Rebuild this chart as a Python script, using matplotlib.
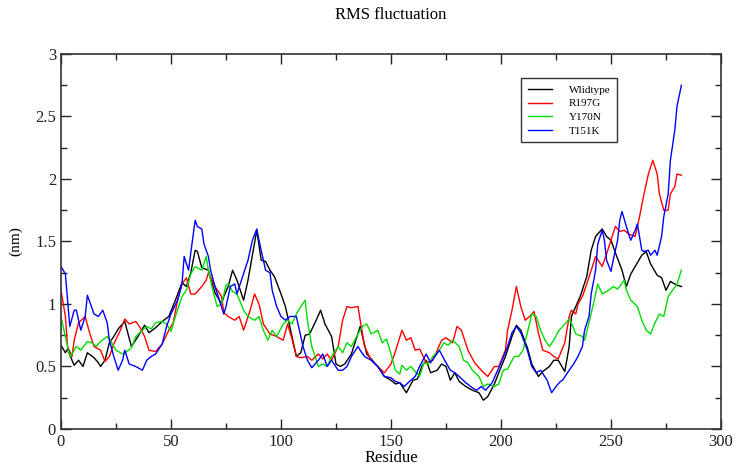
import numpy as np
import matplotlib
matplotlib.use("Agg")
import matplotlib.pyplot as plt
from matplotlib.ticker import MultipleLocator

fsize = 12
plt.rcParams['font.family'] = ['Liberation Serif', 'DejaVu Serif']

# values: residue number -> RMSF (nm)
wt_res = [0, 2, 3, 5, 6, 8, 10, 12, 15, 17, 18, 20, 22, 24, 26, 29, 32, 35, 38, 40,
          43, 46, 49, 52, 55, 57, 59, 61, 62, 64, 67, 70, 73, 74, 76, 78, 80, 83, 85, 89,
          91, 93, 95, 97, 100, 102, 104, 107, 109, 111, 113, 116, 118, 120, 123, 125, 127, 129, 132, 134,
          136, 139, 141, 144, 147, 150, 152, 154, 157, 160, 162, 164, 166, 168, 171, 173, 175, 177, 179, 181,
          184, 187, 190, 192, 194, 197, 199, 202, 205, 207, 209, 212, 214, 217, 219, 222, 224, 226, 229, 231,
          232, 236, 239, 241, 243, 246, 248, 250, 252, 255, 257, 259, 261, 264, 266, 268, 271, 273, 275, 277,
          280, 282]
wt_rmsf = [0.67, 0.61, 0.64, 0.55, 0.51, 0.55, 0.50, 0.61, 0.57, 0.53, 0.50, 0.55, 0.69, 0.74, 0.80, 0.86, 0.66, 0.74, 0.83, 0.77,
           0.81, 0.86, 0.90, 1.03, 1.17, 1.14, 1.25, 1.43, 1.42, 1.29, 1.27, 1.09, 1.00, 1.06, 1.14, 1.27, 1.19, 1.03, 1.19, 1.59,
           1.35, 1.34, 1.27, 1.22, 1.08, 0.98, 0.82, 0.58, 0.61, 0.75, 0.76, 0.87, 0.95, 0.84, 0.74, 0.52, 0.50, 0.52, 0.60, 0.71,
           0.82, 0.60, 0.56, 0.50, 0.42, 0.39, 0.36, 0.37, 0.29, 0.39, 0.40, 0.50, 0.55, 0.45, 0.47, 0.52, 0.50, 0.39, 0.45, 0.38,
           0.34, 0.31, 0.29, 0.23, 0.26, 0.36, 0.45, 0.58, 0.74, 0.83, 0.79, 0.65, 0.52, 0.42, 0.46, 0.50, 0.55, 0.55, 0.46, 0.66,
           0.90, 1.06, 1.22, 1.43, 1.54, 1.60, 1.54, 1.51, 1.41, 1.27, 1.14, 1.24, 1.30, 1.39, 1.42, 1.32, 1.23, 1.21, 1.11, 1.18,
           1.15, 1.14]

r197g_res = [0, 2, 3, 5, 6, 8, 11, 13, 15, 18, 20, 22, 24, 27, 29, 31, 34, 36, 38, 40,
             43, 46, 49, 51, 53, 55, 57, 59, 61, 64, 66, 67, 70, 73, 74, 76, 79, 81, 83, 86,
             88, 90, 92, 95, 98, 101, 103, 105, 107, 109, 112, 114, 117, 119, 121, 123, 126, 128, 130, 132,
             135, 136, 138, 141, 144, 147, 150, 152, 155, 157, 159, 161, 163, 166, 169, 171, 173, 175, 178, 180,
             182, 185, 188, 191, 194, 197, 199, 202, 203, 205, 207, 209, 211, 213, 215, 217, 219, 222, 224, 226,
             229, 231, 232, 234, 235, 237, 239, 241, 243, 246, 248, 250, 252, 254, 256, 258, 261, 263, 265, 267,
             269, 271, 272, 274, 276, 277, 279, 280, 282]
r197g_rmsf = [1.11, 0.90, 0.66, 0.58, 0.71, 0.85, 0.90, 0.77, 0.66, 0.63, 0.54, 0.58, 0.68, 0.79, 0.88, 0.84, 0.86, 0.81, 0.74, 0.63,
              0.62, 0.68, 0.79, 0.85, 1.03, 1.16, 1.21, 1.08, 1.08, 1.14, 1.19, 1.25, 1.14, 1.06, 0.93, 0.90, 0.87, 0.90, 0.79, 0.95,
              1.08, 1.00, 0.84, 0.76, 0.74, 0.71, 0.84, 0.72, 0.58, 0.57, 0.58, 0.55, 0.60, 0.56, 0.60, 0.55, 0.66, 0.87, 0.98, 0.97,
              0.98, 0.87, 0.66, 0.55, 0.50, 0.45, 0.52, 0.62, 0.79, 0.71, 0.73, 0.63, 0.64, 0.53, 0.55, 0.63, 0.71, 0.73, 0.69, 0.82,
              0.79, 0.63, 0.53, 0.47, 0.42, 0.50, 0.50, 0.63, 0.79, 0.95, 1.14, 0.98, 0.87, 0.90, 0.94, 0.77, 0.63, 0.61, 0.58, 0.56,
              0.69, 0.90, 0.95, 0.92, 1.00, 1.06, 1.16, 1.27, 1.38, 1.30, 1.40, 1.51, 1.62, 1.58, 1.59, 1.56, 1.54, 1.70, 1.88, 2.04,
              2.15, 2.04, 1.88, 1.75, 1.75, 1.88, 1.94, 2.04, 2.03]

y170n_res = [0, 2, 4, 5, 7, 9, 12, 14, 16, 18, 21, 23, 25, 28, 30, 32, 34, 37, 39, 41,
             43, 46, 48, 50, 52, 55, 57, 59, 61, 62, 64, 66, 67, 69, 71, 73, 75, 76, 78, 80,
             83, 85, 88, 90, 92, 94, 96, 98, 101, 103, 105, 107, 109, 111, 112, 114, 117, 119, 121, 123,
             126, 128, 130, 132, 135, 137, 139, 141, 144, 146, 148, 150, 152, 154, 155, 157, 159, 163, 165, 167,
             169, 172, 174, 176, 178, 181, 183, 185, 187, 190, 192, 194, 197, 199, 201, 203, 206, 208, 210, 212,
             214, 216, 218, 220, 222, 224, 226, 228, 231, 232, 234, 237, 238, 240, 242, 244, 246, 249, 251, 253,
             256, 257, 259, 262, 264, 266, 268, 270, 272, 274, 276, 278, 280, 282]
y170n_rmsf = [0.90, 0.74, 0.58, 0.60, 0.66, 0.63, 0.70, 0.69, 0.66, 0.70, 0.74, 0.69, 0.63, 0.60, 0.62, 0.65, 0.74, 0.79, 0.82, 0.80,
              0.85, 0.86, 0.84, 0.78, 0.90, 1.06, 1.11, 1.24, 1.30, 1.29, 1.27, 1.38, 1.27, 1.11, 0.98, 1.00, 1.15, 1.16, 1.10, 1.08,
              0.95, 0.90, 0.87, 0.90, 0.79, 0.71, 0.79, 0.74, 0.84, 0.87, 0.84, 0.92, 0.98, 1.03, 0.87, 0.66, 0.50, 0.52, 0.50, 0.58,
              0.66, 0.61, 0.69, 0.66, 0.76, 0.82, 0.84, 0.76, 0.79, 0.69, 0.72, 0.60, 0.47, 0.44, 0.51, 0.47, 0.50, 0.42, 0.53, 0.52,
              0.58, 0.63, 0.69, 0.67, 0.71, 0.66, 0.55, 0.53, 0.47, 0.42, 0.34, 0.36, 0.34, 0.36, 0.47, 0.48, 0.58, 0.58, 0.63, 0.77,
              0.92, 0.90, 0.79, 0.71, 0.66, 0.71, 0.78, 0.82, 0.88, 0.85, 0.76, 0.74, 0.71, 0.85, 1.00, 1.16, 1.08, 1.11, 1.14, 1.12,
              1.19, 1.11, 1.03, 0.98, 0.87, 0.79, 0.76, 0.85, 0.92, 0.90, 1.06, 1.11, 1.16, 1.27]

t151k_res = [0, 2, 3, 4, 6, 7, 9, 11, 12, 15, 17, 19, 21, 22, 24, 26, 28, 29, 31, 34,
             37, 39, 41, 43, 46, 48, 50, 53, 55, 56, 58, 59, 61, 62, 64, 65, 67, 68, 70, 72,
             74, 75, 77, 79, 80, 82, 85, 87, 89, 90, 92, 93, 95, 96, 98, 100, 102, 104, 107, 108,
             110, 112, 114, 117, 119, 121, 123, 126, 128, 130, 132, 135, 136, 138, 141, 144, 147, 150, 152, 154,
             156, 159, 161, 163, 166, 168, 170, 172, 175, 177, 179, 181, 184, 187, 189, 191, 193, 196, 198, 200,
             203, 205, 207, 209, 212, 214, 216, 218, 221, 223, 225, 227, 228, 231, 233, 235, 237, 238, 240, 241,
             243, 244, 246, 247, 248, 250, 251, 253, 254, 255, 257, 258, 259, 261, 262, 264, 265, 267, 268, 270,
             271, 273, 274, 276, 277, 279, 280, 282]
t151k_rmsf = [1.30, 1.24, 1.03, 0.82, 0.95, 0.95, 0.79, 0.90, 1.07, 0.92, 0.90, 0.95, 0.85, 0.71, 0.58, 0.47, 0.55, 0.63, 0.52, 0.50,
              0.47, 0.55, 0.58, 0.60, 0.68, 0.82, 0.92, 1.03, 1.16, 1.38, 1.27, 1.41, 1.67, 1.62, 1.60, 1.48, 1.38, 1.27, 1.14, 1.03,
              0.92, 0.98, 1.14, 1.16, 1.08, 1.19, 1.35, 1.51, 1.60, 1.51, 1.35, 1.27, 1.25, 1.11, 0.98, 0.90, 0.87, 0.90, 0.90, 0.82,
              0.66, 0.55, 0.49, 0.55, 0.60, 0.50, 0.55, 0.47, 0.47, 0.50, 0.58, 0.66, 0.63, 0.58, 0.55, 0.50, 0.42, 0.41, 0.38, 0.37,
              0.34, 0.39, 0.42, 0.50, 0.60, 0.53, 0.58, 0.63, 0.53, 0.47, 0.45, 0.42, 0.37, 0.33, 0.31, 0.34, 0.31, 0.37, 0.45, 0.53,
              0.66, 0.77, 0.82, 0.77, 0.63, 0.50, 0.45, 0.47, 0.39, 0.29, 0.34, 0.38, 0.39, 0.47, 0.52, 0.58, 0.66, 0.79, 0.90, 1.08,
              1.27, 1.48, 1.59, 1.51, 1.35, 1.26, 1.35, 1.51, 1.67, 1.74, 1.62, 1.56, 1.51, 1.59, 1.64, 1.43, 1.42, 1.43, 1.39, 1.43,
              1.39, 1.54, 1.70, 1.88, 2.15, 2.39, 2.58, 2.75]

series = [(wt_res, wt_rmsf, 'Wlidtype', 'black'),
          (r197g_res, r197g_rmsf, 'R197G', '#ff0000'),
          (y170n_res, y170n_rmsf, 'Y170N', '#00dd00'),
          (t151k_res, t151k_rmsf, 'T151K', '#0000ff')]

fig = plt.figure(figsize=(7.41, 4.71), dpi=100)
ax = fig.add_axes([0.0823, 0.0892, 0.8907, 0.7962])

for res, rmsf, lab, col in series:
    ax.plot(res, rmsf, '-', color=col, lw=1.0, label=lab)

ax.set_xlim(0, 300)
ax.set_ylim(0, 3)
ax.xaxis.set_major_locator(MultipleLocator(50))
ax.xaxis.set_minor_locator(MultipleLocator(25))
ax.yaxis.set_major_locator(MultipleLocator(0.5))
ax.yaxis.set_minor_locator(MultipleLocator(0.25))
ax.set_yticks([0, 0.5, 1, 1.5, 2, 2.5, 3])
ax.set_yticklabels(['0', '0.5', '1', '1.5', '2', '2.5', '3'])
ax.tick_params(which='both', direction='in', top=True, right=True, labelsize=fsize, colors='#222222')
ax.tick_params(which='major', length=7, width=1)
ax.tick_params(which='minor', length=4, width=1)
for s in ax.spines.values():
    s.set_color('#333333')
    s.set_linewidth(1.2)

ax.set_title('RMS fluctuation', fontsize=fsize, pad=25)
ax.set_xlabel('Residue', fontsize=fsize, labelpad=0)
ax.set_ylabel('(nm)', fontsize=fsize - 1)
ax.yaxis.set_label_coords(-0.058, 0.5)

leg = ax.legend(loc='upper left', bbox_to_anchor=(0.697, 0.935), fontsize=8, frameon=True,
                fancybox=False, handlelength=2.2, handletextpad=1.5, labelspacing=0.35,
                borderpad=0.6, borderaxespad=0)
leg.get_frame().set_edgecolor('black')
leg.get_frame().set_linewidth(1.0)

plt.savefig('out.png', dpi=100)
